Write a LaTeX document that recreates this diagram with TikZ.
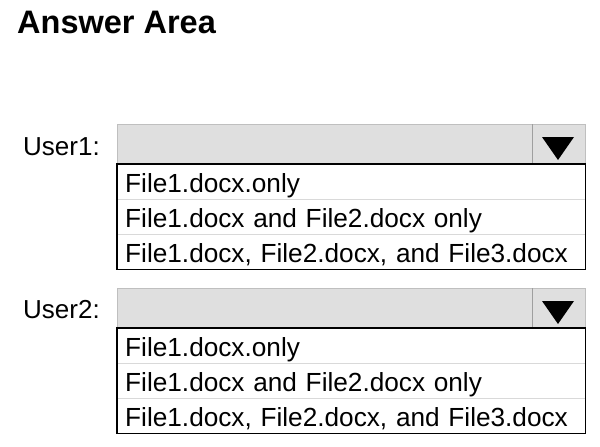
\documentclass[tikz,border=0pt]{standalone}
\usepackage{fontspec}
\setmainfont{Liberation Sans}
\usetikzlibrary{positioning}

\begin{document}
\begin{tikzpicture}[x=1pt, y=-1pt]
		\tikzstyle{Title}	= [anchor=base west, inner sep=0pt, font=\bfseries\fontsize{32.5}{38}\selectfont]
		\tikzstyle{Label}	= [anchor=base west, inner sep=0pt, font=\fontsize{26}{30}\selectfont]
		\tikzstyle{Combo}	= [rectangle, draw=gray!50, fill=gray!25, anchor=north west, minimum width=415pt, minimum height=40pt, inner sep=0pt]
		\tikzstyle{Button}	= [rectangle, draw=gray!50, fill=gray!25, minimum width=53pt, minimum height=40pt, inner sep=0pt]
		\tikzstyle{Option}	= [rectangle, draw=gray!30, anchor=north west, minimum width=468pt, text width=452pt, align=left, inner xsep=8pt, inner ysep=0pt, text height=28pt, text depth=6.67pt, font=\fontsize{26.2}{30}\selectfont]
		\tikzstyle{List}	= [draw=black, line width=1.4pt]
		\tikzstyle{Sep}		= [gray!75, line width=0.8pt]

		\useasboundingbox (0,0) rectangle (600,447);

		\node (title) at (17,33) [Title] {Answer Area};

		% first user
		\node (l1) at (23,155) [Label] {User1:};
		\node (c1) at (117,124) [Combo] {};
		\node (b1) [Button, right=0pt of c1] {};
		\draw [Sep] (b1.north west) to (b1.south west);
		\fill (542,137) -- (574,137) -- (558,160) -- cycle;
		\node (u1o1) at (117,164) [Option] {File1.docx.only};
		\node (u1o2) [Option, below=0pt of u1o1] {File1.docx and File2.docx only};
		\node (u1o3) [Option, below=0pt of u1o2] {File1.docx, File2.docx, and File3.docx};
		\draw [List] (u1o1.north west) rectangle (u1o3.south east);

		% second user
		\node (l2) at (23,318) [Label] {User2:};
		\node (c2) at (117,288) [Combo] {};
		\node (b2) [Button, right=0pt of c2] {};
		\draw [Sep] (b2.north west) to (b2.south west);
		\fill (542,301) -- (574,301) -- (558,324) -- cycle;
		\node (u2o1) at (117,328) [Option] {File1.docx.only};
		\node (u2o2) [Option, below=0pt of u2o1] {File1.docx and File2.docx only};
		\node (u2o3) [Option, below=0pt of u2o2] {File1.docx, File2.docx, and File3.docx};
		\draw [List] (u2o1.north west) rectangle (u2o3.south east);
	\end{tikzpicture}
\end{document}
